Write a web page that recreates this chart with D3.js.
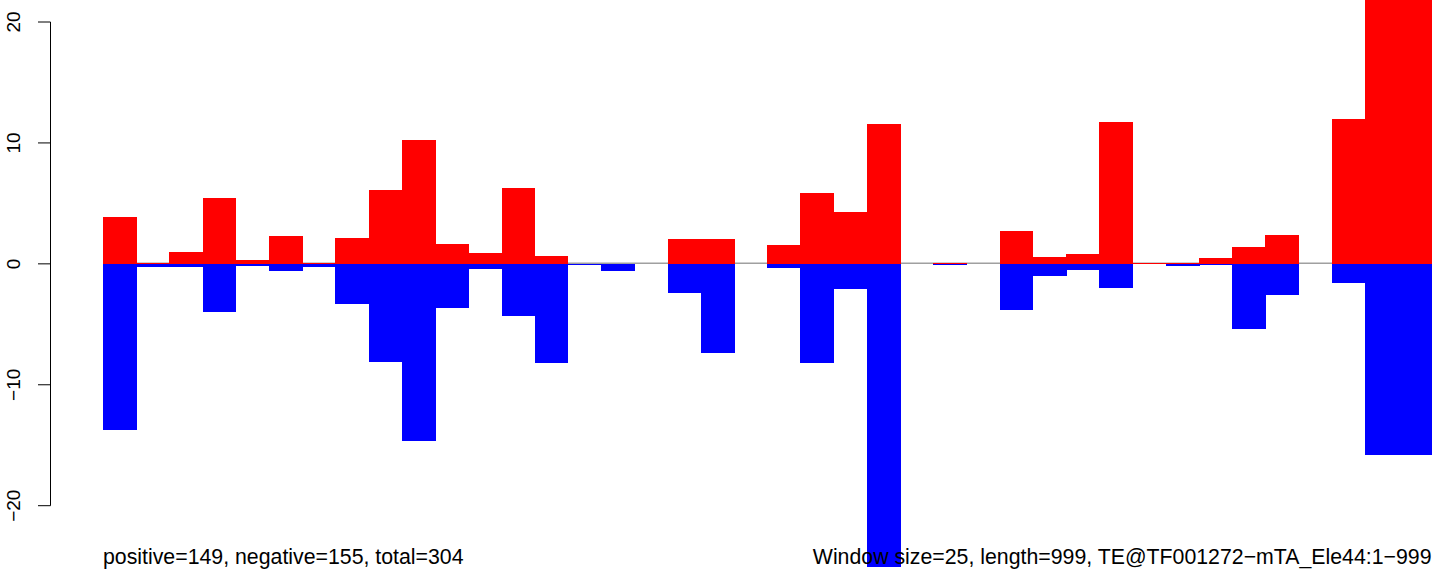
<!DOCTYPE html>
<html>
<head>
<meta charset="utf-8">
<script src="https://cdn.jsdelivr.net/npm/d3@7"></script>
<style>
  html, body { margin: 0; padding: 0; background: #fff; }
  svg { display: block; }
  text { font-family: "Liberation Sans", Arial, Helvetica, sans-serif; fill: #000; }
</style>
</head>
<body>
<svg id="chart" width="1444" height="578"></svg>
<script>
// 40 windows of 25 bp each
const windows = d3.range(40);
const positiveValues = [3.9, 0.1, 1.0, 5.45, 0.3, 2.3, 0.1, 2.1, 6.1, 10.25,
  1.63, 0.88, 6.27, 0.64, 0, 0, 0, 2.05, 2.05, 0,
  1.55, 5.86, 4.28, 11.57, 0, 0.1, 0, 2.7, 0.55, 0.8,
  11.74, 0.1, 0.1, 0.47, 1.38, 2.38, 0, 11.99, 24, 24];
const negativeValues = [-13.75, -0.25, -0.25, -3.97, -0.17, -0.58, -0.27, -3.3, -8.15, -14.66,
  -3.64, -0.43, -4.33, -8.23, -0.1, -0.6, 0, -2.4, -7.4, 0,
  -0.33, -8.2, -2.1, -25.1, 0, -0.1, 0, -3.84, -1.0, -0.5,
  -1.99, 0, -0.2, -0.1, -5.39, -2.57, 0, -1.57, -15.8, -15.8];
const yTicks = [-20, -10, 0, 10, 20];
const leftLabel = "positive=149, negative=155, total=304";
const rightLabel = "Window size=25, length=999, TE@TF001272\u2212mTA_Ele44:1\u2212999";

const svg = d3.select("#chart");
const x = d3.scaleBand().domain(windows).range([103, 1431.5]).padding(0);
const y = d3.scaleLinear().domain([-20, 20]).range([505.7, 22]);

const fmt = d => (d < 0 ? "\u2212" + Math.abs(d) : String(d));

// zero line
svg.append("line")
  .attr("x1", x.range()[0]).attr("x2", x.range()[1])
  .attr("y1", y(0) - 0.5).attr("y2", y(0) - 0.5)
  .attr("stroke", "#a0a0a0").attr("stroke-width", 1.5);

const bars = svg.append("g").attr("shape-rendering", "crispEdges");
bars.selectAll("rect.pos").data(windows.filter(i => positiveValues[i] > 0)).join("rect")
  .attr("class", "pos")
  .attr("x", i => x(i)).attr("width", x.bandwidth() + 0.5)
  .attr("y", i => y(positiveValues[i])).attr("height", i => y(0) - y(positiveValues[i]))
  .attr("fill", "#ff0000");
bars.selectAll("rect.neg").data(windows.filter(i => negativeValues[i] < 0)).join("rect")
  .attr("class", "neg")
  .attr("x", i => x(i)).attr("width", x.bandwidth() + 0.5)
  .attr("y", y(0)).attr("height", i => y(negativeValues[i]) - y(0))
  .attr("fill", "#0000ff");

// y axis (R style: ticks outward, rotated labels)
const axisX = 50.5;
const ax = svg.append("g");
ax.append("line").attr("x1", axisX).attr("x2", axisX)
  .attr("y1", y(20)).attr("y2", y(-20)).attr("stroke", "#000").attr("stroke-width", 1);
ax.selectAll("line.tick").data(yTicks).join("line").attr("class", "tick")
  .attr("x1", axisX - 12.5).attr("x2", axisX)
  .attr("y1", d => y(d)).attr("y2", d => y(d))
  .attr("stroke", "#000").attr("stroke-width", 1);
ax.selectAll("text").data(yTicks).join("text")
  .attr("transform", d => `translate(20,${y(d)}) rotate(-90)`)
  .attr("text-anchor", "middle")
  .style("font-size", "19px")
  .text(fmt);

// bottom annotations
svg.append("text").attr("x", 103).attr("y", 564)
  .style("font-size", "21.3px").text(leftLabel);
svg.append("text").attr("x", 1431.5).attr("y", 564)
  .attr("text-anchor", "end")
  .style("font-size", "21.3px").text(rightLabel);
</script>
</body>
</html>
